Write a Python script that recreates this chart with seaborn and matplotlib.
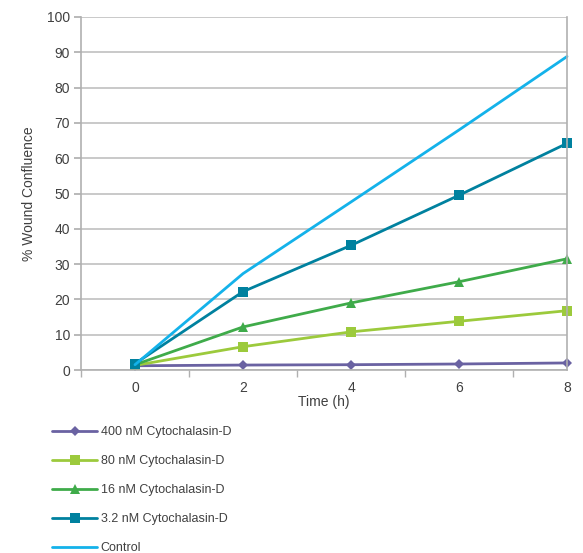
import matplotlib
matplotlib.use("Agg")
import matplotlib.pyplot as plt
import seaborn as sns
import numpy as np
import pandas as pd

time_h = [0, 2, 4, 6, 8]
series_names = ["400 nM Cytochalasin-D", "80 nM Cytochalasin-D", "16 nM Cytochalasin-D",
                "3.2 nM Cytochalasin-D", "Control"]
v400 = [1.2, 1.4, 1.5, 1.7, 2.0]
v80 = [1.3, 6.6, 10.8, 13.8, 16.8]
v16 = [1.5, 12.2, 19.0, 25.0, 31.5]
v3_2 = [1.8, 22.2, 35.3, 49.5, 64.2]
vctrl = [1.5, 27.3, 47.6, 68.0, 88.8]
yticks = list(range(0, 101, 10))
xticks = [0, 2, 4, 6, 8]

values = [v400, v80, v16, v3_2, vctrl]
colors = ["#6a62a2", "#9cca3c", "#3fab4a", "#00819f", "#14b2ea"]
markers = ["D", "s", "^", "s", None]
msizes = [5.5, 7, 7, 7.5, 0]

sns.set_theme(style="white")
plt.rcParams['font.family'] = ['Liberation Sans', 'DejaVu Sans']

fig = plt.figure(figsize=(5.83, 5.53), dpi=100)
ax = fig.add_axes([81/583, 1-370/553, (567-81)/583, (370-17)/553])

for name, vals, c, m, ms in zip(series_names, values, colors, markers, msizes):
    df = pd.DataFrame({"t": time_h, "v": vals})
    sns.lineplot(data=df, x="t", y="v", ax=ax, color=c, marker=m if m else None,
                 markersize=ms, markeredgewidth=0, linewidth=2.0, label=name,
                 legend=False, clip_on=False)

ax.set_xlim(-1, 8)
ax.set_ylim(0, 100)
ax.set_yticks(yticks)
ax.set_xticks(xticks)
ax.set_xticks([-1, 1, 3, 5, 7], minor=True)
ax.grid(axis="y", color="#c0c0c0", linewidth=1.2)
ax.set_axisbelow(True)
for s in ["left", "bottom", "right"]:
    ax.spines[s].set_color("#b0b0b0")
    ax.spines[s].set_linewidth(1.2)
ax.spines["top"].set_visible(False)
ax.tick_params(axis="y", which="major", left=True, length=5, color="#b0b0b0",
               labelsize=10, labelcolor="#404040", pad=3)
ax.tick_params(axis="x", which="major", bottom=False, labelsize=10, labelcolor="#404040", pad=2)
ax.tick_params(axis="x", which="minor", bottom=True, length=5, color="#b0b0b0")
ax.set_xlabel("Time (h)", fontsize=10, color="#404040", labelpad=0)
ax.set_ylabel("% Wound Confluence", fontsize=10, color="#404040", labelpad=8)

handles, labels = ax.get_legend_handles_labels()
fig.legend(handles, labels, loc="upper left", bbox_to_anchor=(47/583, 1-421/553),
           frameon=False, fontsize=9, labelcolor="#404040", handlelength=3.6,
           handletextpad=0.3, labelspacing=1.36, borderaxespad=0)

fig.savefig("out.png", dpi=100)
